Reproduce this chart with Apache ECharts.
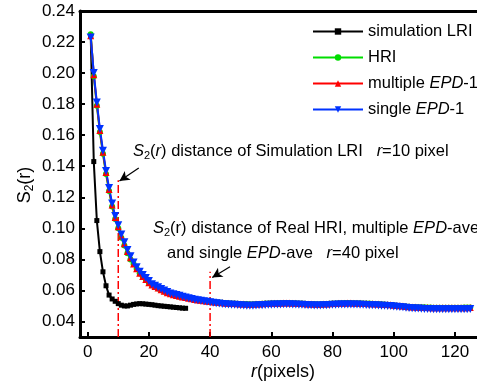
<!DOCTYPE html>
<html>
<head>
<meta charset="utf-8">
<script src="https://cdn.jsdelivr.net/npm/echarts@6/dist/echarts.min.js"></script>
<style>
  html, body { margin: 0; padding: 0; background: #fff; }
  #chart { width: 477px; height: 389px; }
</style>
</head>
<body>
<div id="chart"></div>
<script>
// r in pixels
const rLRI = Array.from({ length: 32 }, (_, i) => i + 1);
const rHRI = Array.from({ length: 125 }, (_, i) => i + 1);

const simLRI = [
  0.224, 0.143, 0.105, 0.085, 0.072, 0.063, 0.057, 0.0545, 0.053, 0.0515,
  0.0505, 0.050, 0.050, 0.0505, 0.051, 0.0513, 0.0515, 0.0514, 0.0512, 0.051,
  0.0508, 0.0505, 0.0502, 0.050, 0.0498, 0.0496, 0.0494, 0.0492, 0.049, 0.0488,
  0.0486, 0.0485
];

const hri = [
  0.225, 0.198, 0.179, 0.162, 0.148, 0.135, 0.124, 0.114, 0.106, 0.100,
  0.094, 0.089, 0.084, 0.080, 0.077, 0.074, 0.071, 0.069, 0.067, 0.065,
  0.0635, 0.0622, 0.0612, 0.0602, 0.0593, 0.0585, 0.0577, 0.0571, 0.0566, 0.0561,
  0.0557, 0.0553, 0.0549, 0.0545, 0.0542, 0.0539, 0.0536, 0.0533, 0.0531, 0.0528,
  0.0526, 0.0524, 0.0522, 0.052, 0.0519, 0.0518, 0.0516, 0.0515, 0.0514, 0.0513,
  0.0512, 0.0512, 0.0511, 0.0511, 0.0512, 0.0513, 0.0514, 0.0515, 0.0516, 0.0517,
  0.0518, 0.0518, 0.0519, 0.0519, 0.0519, 0.0518, 0.0518, 0.0517, 0.0516, 0.0515,
  0.0514, 0.0513, 0.0512, 0.0512, 0.0511, 0.0511, 0.0512, 0.0513, 0.0514, 0.0515,
  0.0516, 0.0517, 0.0518, 0.0519, 0.0519, 0.0519, 0.0518, 0.0518, 0.0517, 0.0516,
  0.0515, 0.0515, 0.0514, 0.0513, 0.0512, 0.0511, 0.051, 0.0508, 0.0506, 0.0504,
  0.0502, 0.05, 0.0498, 0.0497, 0.0495, 0.0494, 0.0493, 0.0492, 0.0491, 0.0491,
  0.049, 0.049, 0.0489, 0.0489, 0.0489, 0.0489, 0.0488, 0.0488, 0.0488, 0.0489,
  0.0489, 0.0489, 0.049, 0.049, 0.049
];

const multipleEPD = [
  0.224, 0.199, 0.180, 0.163, 0.149, 0.136, 0.125, 0.115, 0.107, 0.101,
  0.095, 0.090, 0.085, 0.081, 0.077, 0.074, 0.071, 0.069, 0.067, 0.065,
  0.0635, 0.0625, 0.0615, 0.0605, 0.0595, 0.0585, 0.0578, 0.0572, 0.0567, 0.0562,
  0.0558, 0.0554, 0.055, 0.0546, 0.0542, 0.0539, 0.0536, 0.0533, 0.053, 0.0528,
  0.0526, 0.0524, 0.0522, 0.052, 0.0518, 0.0517, 0.0516, 0.0515, 0.0514, 0.0513,
  0.0512, 0.0511, 0.0511, 0.0511, 0.0512, 0.0513, 0.0514, 0.0515, 0.0516, 0.0517,
  0.0517, 0.0518, 0.0518, 0.0519, 0.0519, 0.0519, 0.0518, 0.0517, 0.0516, 0.0515,
  0.0514, 0.0513, 0.0512, 0.0511, 0.0511, 0.0511, 0.0512, 0.0513, 0.0514, 0.0515,
  0.0516, 0.0517, 0.0518, 0.0518, 0.0519, 0.0519, 0.0518, 0.0518, 0.0517, 0.0516,
  0.0515, 0.0514, 0.0514, 0.0513, 0.0512, 0.0511, 0.051, 0.0509, 0.0507, 0.0505,
  0.0503, 0.0501, 0.0499, 0.0497, 0.0495, 0.0494, 0.0493, 0.0492, 0.0491, 0.049,
  0.049, 0.0489, 0.0489, 0.0489, 0.0488, 0.0488, 0.0488, 0.0488, 0.0488, 0.0488,
  0.0488, 0.0489, 0.0489, 0.0489, 0.049
];

const singleEPD = [
  0.223, 0.200, 0.181, 0.164, 0.150, 0.137, 0.126, 0.116, 0.108, 0.102,
  0.096, 0.091, 0.086, 0.082, 0.078, 0.075, 0.072, 0.070, 0.068, 0.066,
  0.064, 0.063, 0.062, 0.061, 0.060, 0.059, 0.058, 0.0575, 0.057, 0.0565,
  0.056, 0.0555, 0.055, 0.0545, 0.054, 0.0537, 0.0533, 0.053, 0.0527, 0.0524,
  0.052, 0.0518, 0.0515, 0.0513, 0.0511, 0.051, 0.0508, 0.0507, 0.0506, 0.0505,
  0.0503, 0.0502, 0.0502, 0.0502, 0.0503, 0.0504, 0.0505, 0.0506, 0.0507, 0.0508,
  0.0509, 0.051, 0.051, 0.0511, 0.0511, 0.0511, 0.051, 0.0509, 0.0508, 0.0507,
  0.0506, 0.0505, 0.0504, 0.0503, 0.0503, 0.0503, 0.0504, 0.0505, 0.0506, 0.0507,
  0.0508, 0.0509, 0.051, 0.051, 0.051, 0.051, 0.051, 0.0509, 0.0508, 0.0507,
  0.0506, 0.0505, 0.0505, 0.0504, 0.0503, 0.0502, 0.0501, 0.05, 0.0499, 0.0497,
  0.0495, 0.0493, 0.0491, 0.0489, 0.0487, 0.0485, 0.0484, 0.0483, 0.0482, 0.0481,
  0.048, 0.048, 0.0479, 0.0479, 0.0478, 0.0478, 0.0478, 0.0478, 0.0478, 0.0478,
  0.0478, 0.0479, 0.0479, 0.0479, 0.048
];

const xTicks = [0, 20, 40, 60, 80, 100, 120];
const yTicks = [0.04, 0.06, 0.08, 0.10, 0.12, 0.14, 0.16, 0.18, 0.20, 0.22, 0.24];

// annotation marks: distance lines (r, top of line) and arrows (from -> to)
const distLRI = [[10, 0.03], [10, 0.131]];
const distHRI = [[40, 0.03], [40, 0.072]];
const arrowLRI = [[16.7, 0.1389], [10.4, 0.1305]];
const arrowHRI = [[46.5, 0.0753], [40.7, 0.0683]];

const FONT = "Liberation Sans, Arial, sans-serif";

const chart = echarts.init(document.getElementById("chart"));

const pairs = (xs, ys) => ys.map((v, i) => [xs[i], v]);

const curve = (name, xs, ys, color, symbol, size, extra) => Object.assign({
  name,
  type: "line",
  data: pairs(xs, ys),
  symbol,
  symbolSize: size,
  showSymbol: true,
  lineStyle: { color, width: 2 },
  itemStyle: { color },
  emphasis: { disabled: true },
  z: 3
}, extra || {});

const subRich = {
  n: { fontFamily: FONT, fontSize: 16.5, color: "#000", lineHeight: 20 },
  i: { fontFamily: FONT, fontSize: 16.5, color: "#000", fontStyle: "italic", lineHeight: 20 },
  s: { fontFamily: FONT, fontSize: 11, color: "#000", verticalAlign: "bottom", lineHeight: 12 }
};

chart.setOption({
  animation: false,
  backgroundColor: "#fff",
  grid: { left: 80, right: 0, top: 11, bottom: 52 },
  legend: {
    orient: "vertical",
    left: 307,
    top: 18,
    itemWidth: 50,
    itemHeight: 8,
    itemGap: 9,
    data: ["simulation LRI", "HRI", "multiple EPD-1", "single EPD-1"],
    formatter: (n) => n.replace("EPD", "{i|EPD}"),
    textStyle: {
      fontFamily: FONT, fontSize: 16.5, color: "#000",
      rich: { i: { fontFamily: FONT, fontSize: 16.5, fontStyle: "italic", color: "#000" } }
    }
  },
  xAxis: [{
    type: "value",
    min: -2.5,
    max: 127.2,
    axisLine: { onZero: false, lineStyle: { color: "#000", width: 3 } },
    axisTick: { inside: true, length: 5, lineStyle: { width: 2, color: "#000" }, customValues: xTicks },
    axisLabel: { fontFamily: FONT, fontSize: 17, color: "#000", margin: 7, customValues: xTicks },
    splitLine: { show: false }
  }, {
    type: "value",
    position: "top",
    min: -2.5,
    max: 127.2,
    axisLine: { show: true, onZero: false, lineStyle: { color: "#000", width: 3 } },
    axisTick: { show: false },
    axisLabel: { show: false },
    splitLine: { show: false }
  }],
  yAxis: {
    type: "value",
    min: 0.03,
    max: 0.24,
    axisLine: { show: true, onZero: false, lineStyle: { color: "#000", width: 3 } },
    axisTick: { show: true, inside: true, length: 5, lineStyle: { width: 2, color: "#000" }, customValues: yTicks },
    axisLabel: {
      fontFamily: FONT, fontSize: 17, color: "#000", margin: 5,
      customValues: yTicks,
      formatter: (v) => v.toFixed(2)
    },
    splitLine: { show: false }
  },
  series: [
    curve("simulation LRI", rLRI, simLRI, "#000000", "rect", 5),
    curve("HRI", rHRI, hri, "#00dd00", "circle", 6),
    curve("multiple EPD-1", rHRI, multipleEPD, "#ff0000", "triangle", 7),
    curve("single EPD-1", rHRI, singleEPD, "#0033ff", "triangle", 8, { symbolRotate: 180 }),
    {
      name: "dist LRI",
      type: "line",
      data: distLRI,
      symbol: "none",
      lineStyle: { color: "#ff0000", width: 1.5, type: [8, 3, 2, 3] },
      z: 2,
      markLine: {
        silent: true,
        symbol: ["none", "arrow"],
        symbolSize: [8, 10],
        label: { show: false },
        lineStyle: { color: "#000", type: "solid", width: 1.2 },
        data: [
          [{ coord: arrowLRI[0] }, { coord: arrowLRI[1] }],
          [{ coord: arrowHRI[0] }, { coord: arrowHRI[1] }]
        ]
      }
    },
    {
      name: "dist HRI",
      type: "line",
      data: distHRI,
      symbol: "none",
      lineStyle: { color: "#ff0000", width: 1.5, type: [8, 3, 2, 3] },
      z: 2
    }
  ],
  graphic: [
    {
      type: "text", left: 133, top: 143,
      style: {
        text: "{i|S}{s|2}{n|(}{i|r}{n|) distance of Simulation LRI   }{i|r}{n|=10 pixel}",
        rich: subRich
      }
    },
    {
      type: "text", left: 153, top: 220,
      style: {
        text: "{i|S}{s|2}{n|(r) distance of Real HRI, multiple }{i|EPD}{n|-ave}",
        rich: subRich
      }
    },
    {
      type: "text", left: 167, top: 245,
      style: {
        text: "{n|and single }{i|EPD}{n|-ave   }{i|r}{n|=40 pixel}",
        rich: subRich
      }
    },
    {
      type: "text", x: 283, y: 372,
      style: {
        text: "{i|r}{n|(pixels)}",
        align: "center", verticalAlign: "middle",
        rich: {
          n: { fontFamily: FONT, fontSize: 18, color: "#000" },
          i: { fontFamily: FONT, fontSize: 18, color: "#000", fontStyle: "italic" }
        }
      }
    },
    {
      type: "text", x: 25, y: 185, rotation: Math.PI / 2,
      style: {
        text: "{n|S}{s|2}{n|(r)}",
        align: "center", verticalAlign: "middle",
        rich: {
          n: { fontFamily: FONT, fontSize: 18, color: "#000", lineHeight: 22 },
          s: { fontFamily: FONT, fontSize: 12, color: "#000", verticalAlign: "bottom", lineHeight: 13 }
        }
      }
    }
  ]
});
</script>
</body>
</html>
